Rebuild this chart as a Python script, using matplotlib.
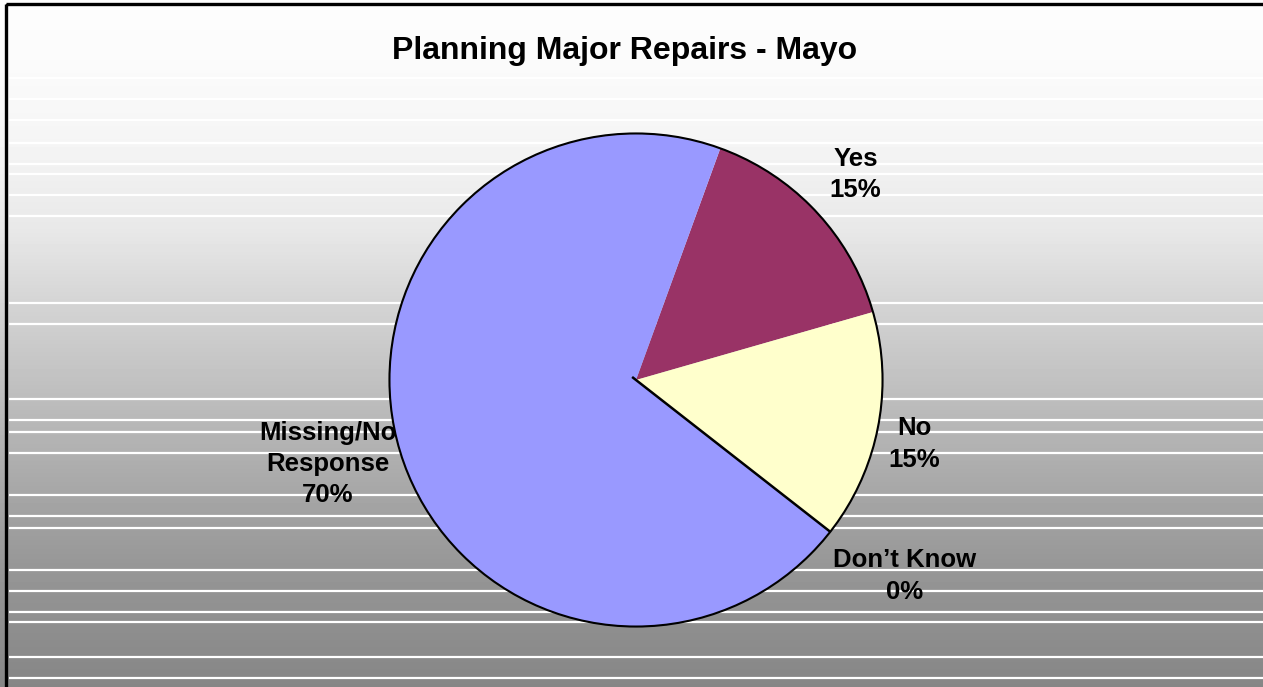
import numpy as np
import matplotlib
matplotlib.use("Agg")
import matplotlib.pyplot as plt
from matplotlib.patches import Circle, Rectangle

# survey answers, percent of respondents
categorias = ["Yes", "No", "Don\u2019t Know", "Missing/No\nResponse"]
porcentajes = [15, 15, 0, 70]
colores = ["#993366", "#FFFFCC", "#FFFFFF", "#9999FF"]

# label anchors in pie units (radius = 1)
pos_etiquetas = [(0.89, 0.835), (1.13, -0.26), (1.09, -0.795), (-1.25, -0.34)]

# vertical gray ramp for the chart area, plus the light streaks across it
fondo_y = [0, 60, 140, 230, 300, 390, 500, 570, 687]
fondo_gris = [253, 251, 245, 232, 213, 191, 165, 150, 134]
rayas_y = [78, 99, 120, 143, 164, 174, 195, 216, 303, 324, 399, 420, 432,
           453, 495, 516, 528, 570, 591, 612, 622, 657, 678]

W, H = 1263, 687
fig = plt.figure(figsize=(W / 100, H / 100), dpi=100)
plt.rcParams['font.family'] = ['Liberation Sans', 'DejaVu Sans']

# background
bg = fig.add_axes([0, 0, 1, 1])
filas = np.interp(np.arange(H) + 0.5, fondo_y, fondo_gris) / 255.0
img = np.tile(filas[:, None], (1, 16))
bg.imshow(img, cmap="gray", vmin=0, vmax=1, aspect="auto",
          extent=(0, W, H, 0), interpolation="nearest")
for y in rayas_y:
    bg.plot([9, W], [y, y], color="white", lw=1.6, solid_capstyle="butt")
bg.add_patch(Rectangle((6, 4), W, H, fill=False, ec="black", lw=2.4,
                       zorder=5))
bg.set_xlim(0, W)
bg.set_ylim(H, 0)
bg.axis("off")

# pie
cx, cy, r = 636, 380, 249
ax = fig.add_axes([(cx - r) / W, (H - cy - r) / H, 2 * r / W, 2 * r / H])
cunas, _ = ax.pie(porcentajes, colors=colores, startangle=70,
                  counterclock=False, radius=1,
                  wedgeprops=dict(linewidth=0))
# the empty slice only shows as a dividing line
ang = np.deg2rad(cunas[2].theta1)
ax.plot([-0.02 * np.cos(ang), np.cos(ang)], [-0.02 * np.sin(ang), np.sin(ang)],
        color="black", lw=1.8, solid_capstyle="butt")
ax.add_patch(Circle((0, 0), 1, fill=False, ec="black", lw=1.5))
ax.set_xlim(-1.01, 1.01)
ax.set_ylim(-1.01, 1.01)
ax.axis("off")

for nombre, pct, (lx, ly) in zip(categorias, porcentajes, pos_etiquetas):
    ax.text(lx, ly, f"{nombre}\n{pct:.0f}%", ha="center", va="center",
            fontsize=18.5, fontweight="bold", linespacing=1.38,
            clip_on=False)

fig.text(625 / W, 1 - 51 / H, "Planning Major Repairs - Mayo",
         ha="center", va="center", fontsize=23, fontweight="bold")

fig.savefig("out.png", dpi=100)
